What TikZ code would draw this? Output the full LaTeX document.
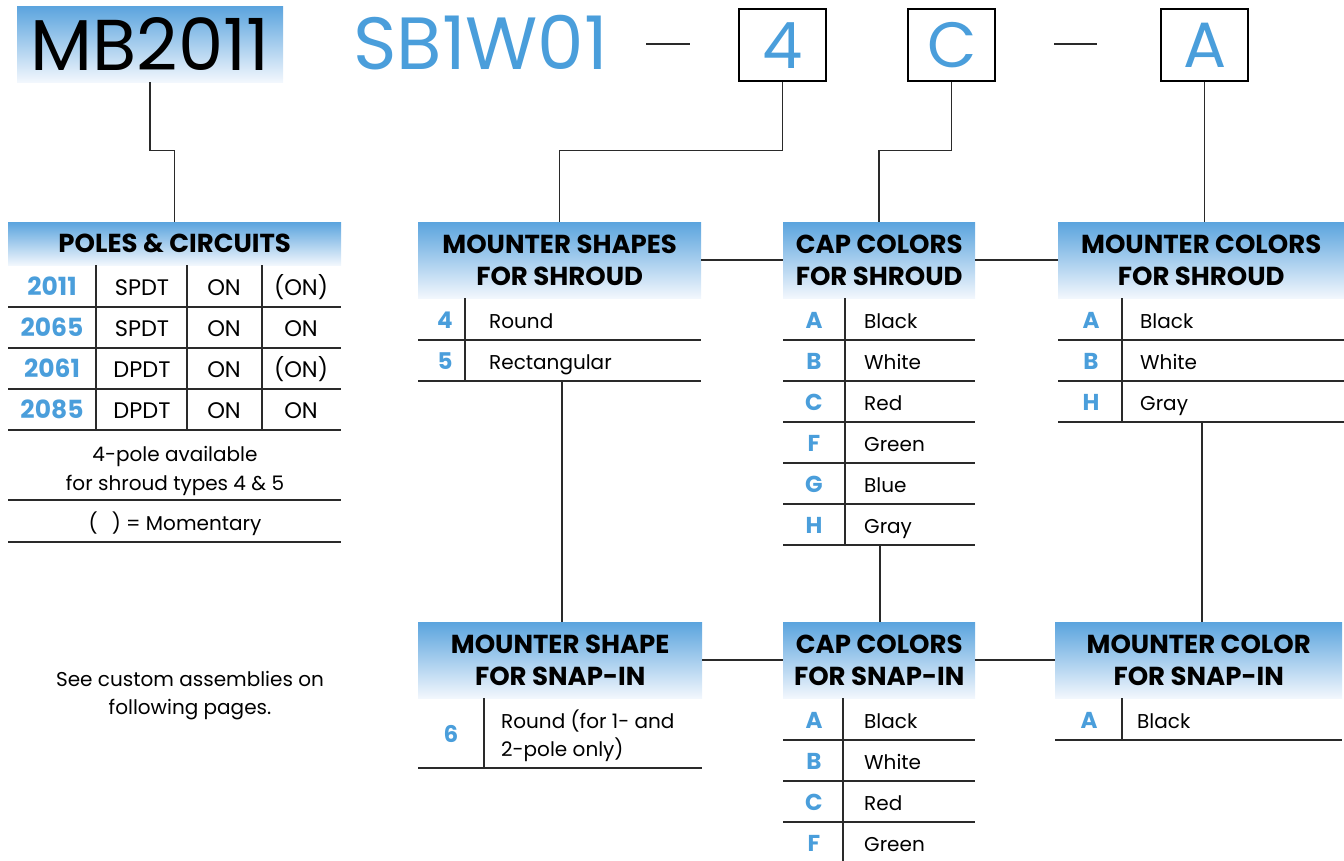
\documentclass[tikz,border=0pt]{standalone}
\usepackage{fontspec}
\setmainfont{Poppins}
\definecolor{hdrtop}{HTML}{5BA4DE}
\definecolor{hdrbot}{HTML}{F2F7FD}
\definecolor{bluetxt}{HTML}{4A9EDB}
\definecolor{linecol}{HTML}{2A2A2A}
\tikzset{
  hdr/.style={anchor=north west, top color=hdrtop, bottom color=hdrbot, draw=none, align=center,
    font=\fontsize{26}{32}\selectfont\bfseries, inner sep=0pt},
  code/.style={text=bluetxt, font=\fontsize{23}{26}\selectfont\bfseries, anchor=base, inner sep=0pt},
  item/.style={font=\fontsize{20}{28}\selectfont, anchor=base west, inner sep=0pt},
  ctr/.style={font=\fontsize{20}{28}\selectfont, anchor=base, inner sep=0pt},
  cell/.style={font=\fontsize{22.5}{28}\selectfont, anchor=base, inner sep=0pt},
  rule/.style={line width=1.5pt, draw=linecol},
  conn/.style={line width=1.5pt, draw=linecol},
  keybox/.style={draw=black, line width=2.4pt, minimum width=87pt, minimum height=72pt,
    text=bluetxt, font=\fontsize{64}{64}\selectfont, inner sep=0pt, anchor=north west}
}
\begin{document}
\begin{tikzpicture}[x=1pt,y=-1pt]
\useasboundingbox (0,0) rectangle (1344,861);

% --- top code line ---
\node[anchor=north west, top color=hdrtop, bottom color=hdrbot, minimum width=266pt, minimum height=76pt,
  inner sep=0pt, font=\fontsize{72}{72}\selectfont] (mb) at (17,6) {MB2011};
\node[anchor=base west, inner sep=0pt, text=bluetxt, font=\fontsize{74}{74}\selectfont] (sb) at (353,70) {SB1W01};
\coordinate (d1a) at (646,44); \coordinate (d1b) at (690,44);
\draw[conn] (d1a) -- (d1b);
\node[keybox] (k4) at (738,8) {4};
\node[keybox] (kc) at (907,8) {C};
\coordinate (d2a) at (1054,44); \coordinate (d2b) at (1097,44);
\draw[conn] (d2a) -- (d2b);
\node[keybox] (ka) at (1160,8) {A};

% --- headers ---
\node[hdr, minimum width=333pt, minimum height=43pt] (poles) at (8,222) {POLES \& CIRCUITS};
\node[hdr, minimum width=283pt, minimum height=76pt] (ms) at (418,222) {MOUNTER SHAPES\\FOR SHROUD};
\node[hdr, minimum width=192pt, minimum height=76pt] (cs) at (783,222) {CAP COLORS\\FOR SHROUD};
\node[hdr, minimum width=286pt, minimum height=76pt] (mc) at (1058,222) {MOUNTER COLORS\\FOR SHROUD};
\node[hdr, minimum width=284pt, minimum height=76pt] (msn) at (418,622) {MOUNTER SHAPE\\FOR SNAP-IN};
\node[hdr, minimum width=192pt, minimum height=76pt] (csn) at (783,622) {CAP COLORS\\FOR SNAP-IN};
\node[hdr, minimum width=287pt, minimum height=76pt] (mcn) at (1055,622) {MOUNTER COLOR\\FOR SNAP-IN};

% --- connectors from code line ---
\draw[conn] (mb.south) -- ++(0,68) -| (poles.north);
\draw[conn] (k4.south) -- ++(0,68) -| (ms.north);
\draw[conn] (kc.south) -- ++(0,68) -| (cs.north);
\draw[conn] (ka.south) -- (ka.south |- mc.north);
\draw[conn] (ms.east) -- (cs.west);
\draw[conn] (cs.east) -- (mc.west);
\draw[conn] (msn.east) -- (csn.west);
\draw[conn] (csn.east) -- (mcn.west);

% --- poles table ---
\foreach \a/\b/\c/\d [count=\i] in {2011/SPDT/ON/(ON),2065/SPDT/ON/ON,2061/DPDT/ON/(ON),2085/DPDT/ON/ON}{
  \pgfmathsetmacro{\yb}{295+41*(\i-1)}
  \pgfmathsetmacro{\yl}{307+41*(\i-1)}
  \node[code, font=\fontsize{25}{26}\selectfont\bfseries] at (52,\yb) {\a};
  \node[cell] at (142,\yb) {\b};
  \node[cell] at (224,\yb) {\c};
  \node[cell] at (301,\yb) {\d};
  \draw[rule] (8,\yl) -- (341,\yl);
}
\foreach \x in {96,187,262}{ \draw[rule] (\x,265) -- (\x,430); }
\node[ctr] at (175,461) {4-pole available};
\node[ctr] at (175,490) {for shroud types 4 \& 5};
\draw[rule] (8,500) -- (341,500);
\node[ctr] at (175,530) {(\hspace{14pt}) = Momentary};
\draw[rule] (8,542) -- (341,542);

% --- mounter shapes for shroud ---
\foreach \c/\t [count=\i] in {4/Round,5/Rectangular}{
  \pgfmathsetmacro{\yb}{328+41*(\i-1)}
  \pgfmathsetmacro{\yl}{340+41*(\i-1)}
  \node[code] at (445,\yb) {\c};
  \node[item] at (489,\yb) {\t};
  \draw[rule] (418,\yl) -- (701,\yl);
}
\draw[rule] (465,298) -- (465,381);
\coordinate (msend) at (562,381);
\draw[conn] (msend) -- (msend |- msn.north);

% --- cap colors for shroud ---
\foreach \c/\t [count=\i] in {A/Black,B/White,C/Red,F/Green,G/Blue,H/Gray}{
  \pgfmathsetmacro{\yb}{328+41*(\i-1)}
  \pgfmathsetmacro{\yl}{340+41*(\i-1)}
  \node[code] at (814,\yb) {\c};
  \node[item] at (864,\yb) {\t};
  \draw[rule] (783,\yl) -- (975,\yl);
}
\draw[rule] (845,298) -- (845,545);
\coordinate (csend) at (880,545);
\draw[conn] (csend) -- (csend |- csn.north);

% --- mounter colors for shroud ---
\foreach \c/\t [count=\i] in {A/Black,B/White,H/Gray}{
  \pgfmathsetmacro{\yb}{328+41*(\i-1)}
  \pgfmathsetmacro{\yl}{340+41*(\i-1)}
  \node[code] at (1091,\yb) {\c};
  \node[item] at (1140,\yb) {\t};
  \draw[rule] (1058,\yl) -- (1344,\yl);
}
\draw[rule] (1122,298) -- (1122,422);
\coordinate (mcend) at (1202,422);
\draw[conn] (mcend) -- (mcend |- mcn.north);

% --- mounter shape for snap-in ---
\node[code] at (451,742) {6};
\node[item] at (501,728) {Round (for 1- and};
\node[item] at (501,756) {2-pole only)};
\draw[rule] (418,768) -- (702,768);
\draw[rule] (484,698) -- (484,768);

% --- cap colors for snap-in ---
\foreach \c/\t [count=\i] in {A/Black,B/White,C/Red,F/Green}{
  \pgfmathsetmacro{\yb}{728+41*(\i-1)}
  \node[code] at (814,\yb) {\c};
  \node[item] at (864,\yb) {\t};
}
\foreach \y in {740,781,822}{ \draw[rule] (783,\y) -- (975,\y); }
\draw[rule] (843,698) -- (843,861);

% --- mounter color for snap-in ---
\node[code] at (1089,728) {A};
\node[item] at (1137,728) {Black};
\draw[rule] (1055,740) -- (1342,740);
\draw[rule] (1122,698) -- (1122,740);

% --- note ---
\node[ctr] at (190,686) {See custom assemblies on};
\node[ctr] at (190,714) {following pages.};
\end{tikzpicture}
\end{document}
